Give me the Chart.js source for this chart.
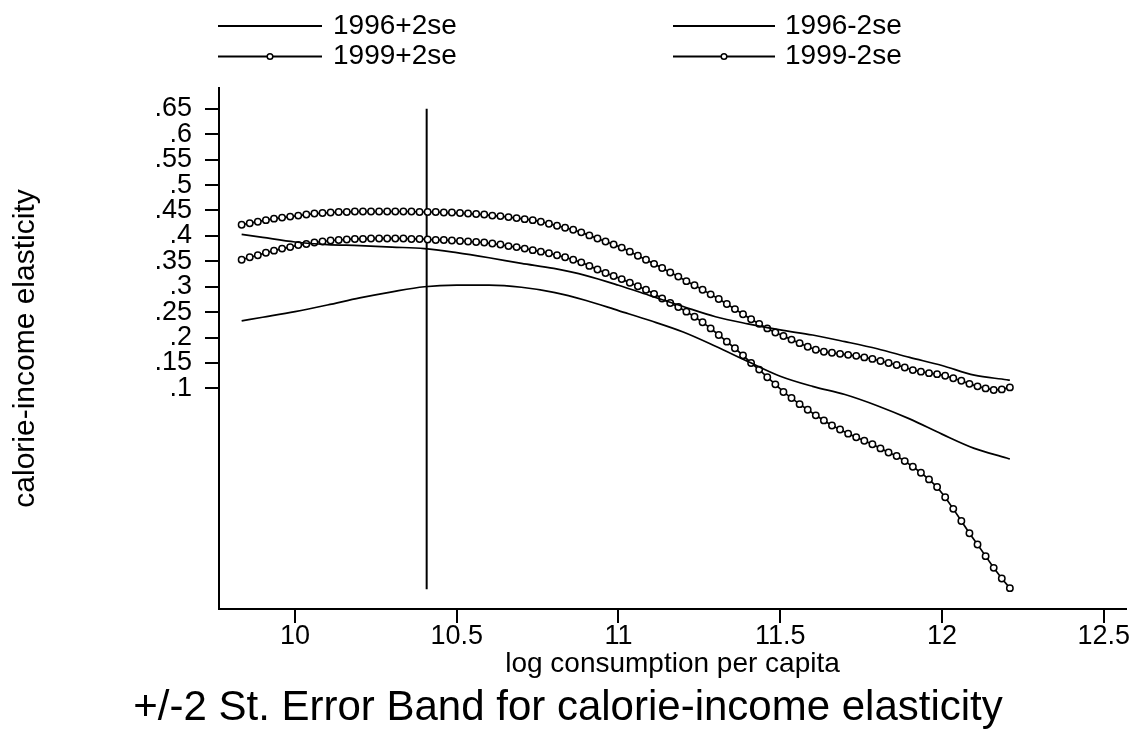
<!DOCTYPE html>
<html><head><meta charset="utf-8">
<script src="https://cdn.jsdelivr.net/npm/chart.js@4.4.0/dist/chart.umd.min.js"></script>
<style>html,body{margin:0;padding:0;background:#fff;}canvas{display:block;}</style>
</head><body>
<canvas id="c" width="1133" height="732"></canvas>
<script>
const seriesLabels = ['1996+2se', '1996-2se', '1999+2se', '1999-2se'];
const chartTitle = '+/-2 St. Error Band for calorie-income elasticity';
const xTitle = 'log consumption per capita';
const yTitle = 'calorie-income elasticity';
const xTicks = [10, 10.5, 11, 11.5, 12, 12.5];
const yTicks = [0.1, 0.15, 0.2, 0.25, 0.3, 0.35, 0.4, 0.45, 0.5, 0.55, 0.6, 0.65];

const xs1996 = [9.835, 9.9, 10.0, 10.1, 10.2, 10.3, 10.4, 10.5, 10.6, 10.7, 10.8, 10.9, 11.0,
  11.1, 11.2, 11.3, 11.4, 11.5, 11.6, 11.7, 11.8, 11.9, 12.0, 12.1, 12.2, 12.21];
const upper1996 = [0.403, 0.397, 0.388, 0.383, 0.381, 0.378, 0.375, 0.367, 0.357, 0.346, 0.336, 0.322, 0.303,
  0.282, 0.261, 0.241, 0.227, 0.215, 0.205, 0.192, 0.178, 0.161, 0.145, 0.126, 0.117, 0.116];
const lower1996 = [0.233, 0.240, 0.251, 0.264, 0.278, 0.290, 0.300, 0.303, 0.303, 0.299, 0.289, 0.273, 0.253,
  0.233, 0.211, 0.183, 0.153, 0.124, 0.104, 0.088, 0.066, 0.040, 0.010, -0.018, -0.037, -0.039];

const xs1999 = [
  9.835, 9.86, 9.885, 9.91, 9.935, 9.96, 9.985, 10.01, 10.035, 10.06,
  10.085, 10.11, 10.135, 10.16, 10.185, 10.21, 10.235, 10.26, 10.285, 10.31,
  10.335, 10.36, 10.385, 10.41, 10.435, 10.46, 10.485, 10.51, 10.535, 10.56,
  10.585, 10.61, 10.635, 10.66, 10.685, 10.71, 10.735, 10.76, 10.785, 10.81,
  10.835, 10.86, 10.885, 10.91, 10.935, 10.96, 10.985, 11.01, 11.035, 11.06,
  11.085, 11.11, 11.135, 11.16, 11.185, 11.21, 11.235, 11.26, 11.285, 11.31,
  11.335, 11.36, 11.385, 11.41, 11.435, 11.46, 11.485, 11.51, 11.535, 11.56,
  11.585, 11.61, 11.635, 11.66, 11.685, 11.71, 11.735, 11.76, 11.785, 11.81,
  11.835, 11.86, 11.885, 11.91, 11.935, 11.96, 11.985, 12.01, 12.035, 12.06,
  12.085, 12.11, 12.135, 12.16, 12.185, 12.21];
const upper1999 = [
  0.422, 0.425, 0.428, 0.431, 0.434, 0.436, 0.438, 0.440, 0.442, 0.444,
  0.445, 0.446, 0.447, 0.447, 0.448, 0.448, 0.448, 0.448, 0.448, 0.448,
  0.448, 0.448, 0.447, 0.447, 0.447, 0.446, 0.446, 0.445, 0.444, 0.443,
  0.442, 0.440, 0.439, 0.437, 0.435, 0.433, 0.431, 0.428, 0.424, 0.420,
  0.416, 0.412, 0.407, 0.401, 0.395, 0.389, 0.383, 0.377, 0.369, 0.361,
  0.353, 0.345, 0.337, 0.328, 0.320, 0.311, 0.303, 0.294, 0.285, 0.276,
  0.266, 0.256, 0.246, 0.236, 0.227, 0.218, 0.210, 0.203, 0.196, 0.189,
  0.182, 0.176, 0.172, 0.170, 0.168, 0.166, 0.164, 0.161, 0.158, 0.154,
  0.150, 0.146, 0.141, 0.136, 0.133, 0.130, 0.128, 0.125, 0.120, 0.115,
  0.109, 0.104, 0.100, 0.097, 0.098, 0.102];
const lower1999 = [
  0.353, 0.358, 0.362, 0.367, 0.371, 0.375, 0.378, 0.382, 0.384, 0.387,
  0.389, 0.391, 0.392, 0.393, 0.394, 0.394, 0.395, 0.395, 0.395, 0.395,
  0.395, 0.394, 0.394, 0.393, 0.392, 0.392, 0.391, 0.390, 0.389, 0.388,
  0.387, 0.385, 0.383, 0.380, 0.378, 0.375, 0.372, 0.369, 0.366, 0.362,
  0.358, 0.353, 0.348, 0.341, 0.334, 0.327, 0.321, 0.315, 0.308, 0.301,
  0.294, 0.286, 0.277, 0.268, 0.260, 0.251, 0.241, 0.230, 0.218, 0.205,
  0.192, 0.179, 0.165, 0.150, 0.137, 0.122, 0.108, 0.093, 0.081, 0.069,
  0.058, 0.047, 0.037, 0.027, 0.019, 0.011, 0.004, -0.003, -0.010, -0.018,
  -0.026, -0.033, -0.043, -0.054, -0.066, -0.079, -0.094, -0.114, -0.137, -0.161,
  -0.185, -0.207, -0.230, -0.253, -0.274, -0.293];

const refLineX = [10.407, 10.407];
const refLineY = [-0.295, 0.65];

const FONT = '"Liberation Sans", Arial, Helvetica, sans-serif';
const pts = (xs, ys) => xs.map((x, i) => ({ x: x, y: ys[i] }));

const solidStyle = { borderColor: '#000', borderWidth: 1.7, pointRadius: 0, fill: false, cubicInterpolationMode: 'monotone' };
const markStyle = { borderColor: '#000', borderWidth: 1.7, pointRadius: 3.2, pointStyle: 'circle',
  pointBackgroundColor: '#fff', pointBorderColor: '#000', pointBorderWidth: 1.5, fill: false, tension: 0 };

const datasets = [
  Object.assign({ label: seriesLabels[0], data: pts(xs1996, upper1996) }, solidStyle),
  Object.assign({ label: seriesLabels[1], data: pts(xs1996, lower1996) }, solidStyle),
  Object.assign({ label: seriesLabels[2], data: pts(xs1999, upper1999) }, markStyle),
  Object.assign({ label: seriesLabels[3], data: pts(xs1999, lower1999) }, markStyle),
  { label: '', data: pts(refLineX, refLineY), borderColor: '#000', borderWidth: 2, pointRadius: 0, fill: false }
];

// legend grid: [datasetIndex, column, row]
const legendCells = [[0, 0, 0], [1, 1, 0], [2, 0, 1], [3, 1, 1]];

const stataText = {
  id: 'stataText',
  afterDraw(chart) {
    const ctx = chart.ctx;
    ctx.save();
    const colLine = [[218, 322], [673, 775]];
    const colText = [333, 785];
    const rowLineY = [26, 56.5];
    const rowBase = [33.5, 63.5];
    ctx.font = '28px ' + FONT;
    ctx.textBaseline = 'alphabetic';
    ctx.textAlign = 'left';
    ctx.fillStyle = '#000';
    legendCells.forEach(([di, c, r]) => {
      const ds = chart.data.datasets[di];
      const y = rowLineY[r];
      ctx.strokeStyle = '#000';
      ctx.lineWidth = 2;
      ctx.beginPath();
      ctx.moveTo(colLine[c][0], y);
      ctx.lineTo(colLine[c][1], y);
      ctx.stroke();
      if (ds.pointRadius > 0) {
        ctx.beginPath();
        ctx.fillStyle = '#fff';
        ctx.lineWidth = 1.5;
        ctx.arc((colLine[c][0] + colLine[c][1]) / 2, y, 2.8, 0, Math.PI * 2);
        ctx.fill();
        ctx.stroke();
        ctx.fillStyle = '#000';
      }
      ctx.fillText(ds.label, colText[c], rowBase[r]);
    });
    ctx.font = '42px ' + FONT;
    ctx.textAlign = 'center';
    ctx.textBaseline = 'alphabetic';
    ctx.fillText(chartTitle, 568, 720);
    ctx.restore();
  }
};

const axisCommon = {
  type: 'linear',
  grid: { display: true, drawOnChartArea: false, drawTicks: true, tickLength: 14, color: '#000', lineWidth: 2 },
  border: { display: true, color: '#000', width: 2 }
};

new Chart(document.getElementById('c'), {
  type: 'line',
  data: { datasets: datasets },
  options: {
    responsive: false,
    animation: false,
    devicePixelRatio: 1,
    layout: { padding: { top: 88, right: 7, left: 0, bottom: 0 } },
    plugins: { legend: { display: false }, tooltip: { enabled: false }, title: { display: false } },
    scales: {
      x: Object.assign({}, axisCommon, {
        min: 9.765, max: 12.569,
        afterBuildTicks: s => { s.ticks = xTicks.map(v => ({ value: v })); },
        afterFit: s => { s.height = 123; },
        ticks: { color: '#000', font: { family: FONT, size: 27, lineHeight: 1 }, padding: 0,
          autoSkip: false, maxRotation: 0, callback: v => String(v) },
        title: { display: true, text: xTitle, color: '#000', font: { family: FONT, size: 28, lineHeight: 1.2 },
          padding: { top: 0, bottom: 51 } }
      }),
      y: Object.assign({}, axisCommon, {
        min: -0.334, max: 0.691,
        afterBuildTicks: s => { s.ticks = yTicks.map(v => ({ value: v })); },
        afterFit: s => { s.width = 219; },
        ticks: { color: '#000', font: { family: FONT, size: 27, lineHeight: 1 }, padding: 13,
          autoSkip: false, callback: v => String(v).replace(/^0\./, '.') },
        title: { display: true, text: yTitle, color: '#000', font: { family: FONT, size: 30, lineHeight: 1.2 },
          padding: { top: 8, bottom: 0 } }
      })
    }
  },
  plugins: [stataText]
});
</script>
</body></html>
